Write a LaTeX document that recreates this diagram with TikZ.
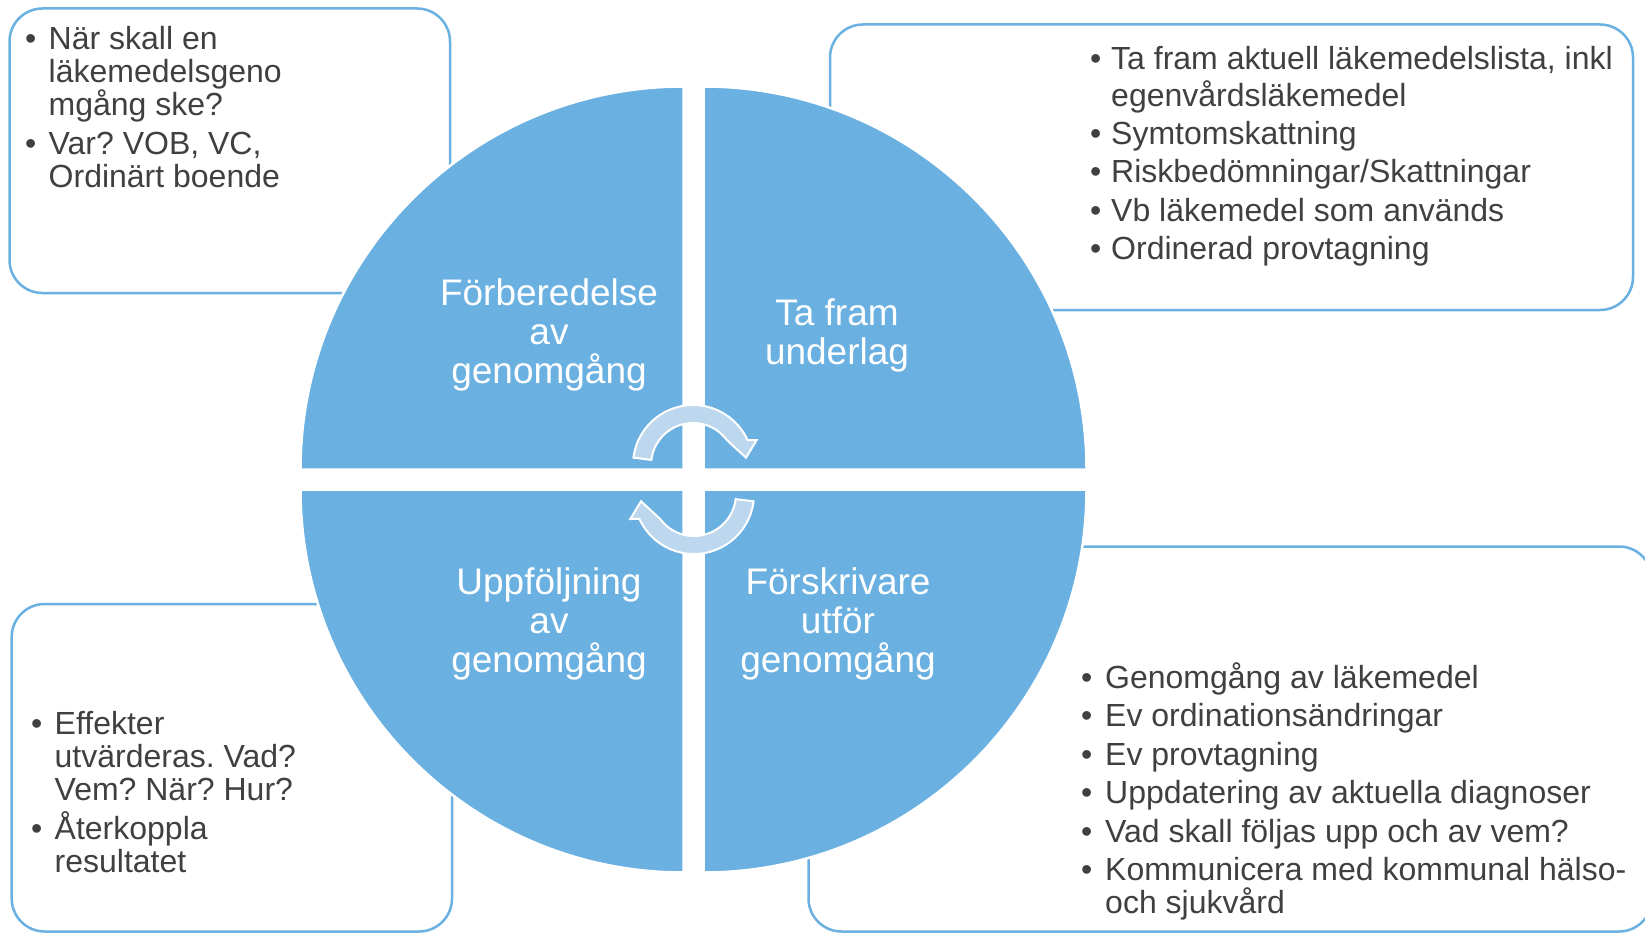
\documentclass[tikz,border=0pt]{standalone}
\usepackage{fontspec}
\setmainfont{Liberation Sans}
\frenchspacing
\lineskiplimit=-100pt
\definecolor{quadblue}{RGB}{106,176,225}
\definecolor{arrowfill}{RGB}{189,215,238}
\definecolor{textgray}{RGB}{64,64,64}
\newlength\bulletgap
\setlength\bulletgap{23.5pt}
\newcommand\Item[1]{\makebox[\bulletgap][l]{\textbullet}#1}
\newcommand\Cont[1]{\hspace*{\bulletgap}#1}
% one of the two round arrows in the middle, turned by #1 degrees
\newcommand\CycleArrow[1]{%
    \draw[cyclearrow, rotate around={#1:(693.5,479.5)}]
        (693,465) ++(187:60) arc[start angle=187, end angle=335.4, radius=60]
        -- (756.7,440) -- (746,457.7) -- (726.8,440)
        arc[start angle=323.5, end angle=187, radius=42] -- cycle;
}
\tikzset{
    quarter/.style={fill=quadblue, draw=white, line width=2.5},
    quadlabel/.style={text=white, align=center, anchor=base, inner sep=0,
        font=\fontsize{37}{39}\selectfont},
    infobox/.style={draw=quadblue, line width=2.5, fill=white, rounded corners=33},
    infotext/.style={text=textgray, align=left, anchor=base west, inner sep=0,
        font=\fontsize{32}{33}\selectfont},
    cyclearrow/.style={fill=arrowfill, draw=white, line width=2, line join=miter}
}
\begin{document}
\begin{tikzpicture}[x=1pt, y=-1pt]
    \useasboundingbox (0,0) rectangle (1645,933);
    % boxes behind the circle
    \draw[infobox] (9.5,8.5) rectangle (450,293);
    \draw[infobox] (830,24.5) rectangle (1633,310);
    \draw[infobox] (11.7,604) rectangle (452,931.5);
    \draw[infobox] (808.5,546.5) rectangle (1652,931.5);
    % the four quarters
    \foreach \cx/\cy/\a in {683.5/469.5/180, 703.5/469.5/270, 703.5/489.5/0, 683.5/489.5/90}
        \draw[quarter] (\cx,\cy) -- ++(\a:383) arc[start angle=\a, end angle=\a+90, radius=383] -- cycle;
    \CycleArrow{0}
    \CycleArrow{180}
    % labels sit on the baseline of their last line
    \node[quadlabel] (prep) at (549,383.5) {Förberedelse\\av\\genomgång};
    \node[quadlabel] (basis) at (837,364.5) {Ta fram\\underlag};
    \node[quadlabel] (followup) at (549,672.5) {Uppföljning\\av\\genomgång};
    \node[quadlabel] (review) at (838,672.5) {Förskrivare\\utför\\genomgång};
    % the lists
    \node[infotext] (prepList) at (25,188) {\Item{När skall en}\\
        \Cont{läkemedelsgeno}\\ \Cont{mgång ske?}\\[6pt]
        \Item{Var? VOB, VC,}\\ \Cont{Ordinärt boende}};
    \node[infotext, font={\fontsize{32}{36.7}\selectfont\setlength\bulletgap{21pt}}]
        (basisList) at (1090,259.3) {\Item{Ta fram aktuell läkemedelslista, inkl}\\
        \Cont{egenvårdsläkemedel}\\[1.6pt]
        \Item{Symtomskattning}\\[1.6pt]
        \Item{Riskbedömningar/Skattningar}\\[1.6pt]
        \Item{Vb läkemedel som används}\\[1.6pt]
        \Item{Ordinerad provtagning}};
    \node[infotext] (followupList) at (31,872) {\Item{Effekter}\\
        \Cont{utvärderas. Vad?}\\ \Cont{Vem? När? Hur?}\\[6pt]
        \Item{Återkoppla}\\ \Cont{resultatet}};
    \node[infotext, font={\fontsize{32}{32.5}\selectfont\setlength\bulletgap{24pt}}]
        (reviewList) at (1081,913.3) {\Item{Genomgång av läkemedel}\\[6pt]
        \Item{Ev ordinationsändringar}\\[6pt]
        \Item{Ev provtagning}\\[6pt]
        \Item{Uppdatering av aktuella diagnoser}\\[6pt]
        \Item{Vad skall följas upp och av vem?}\\[6pt]
        \Item{Kommunicera med kommunal hälso-}\\ \Cont{och sjukvård}};
\end{tikzpicture}
\end{document}
